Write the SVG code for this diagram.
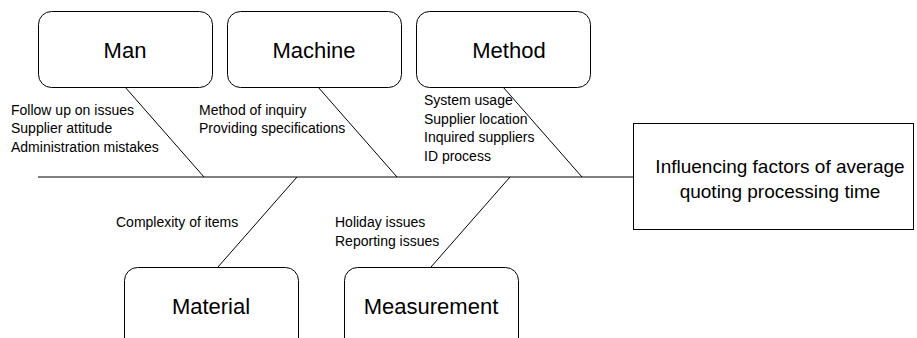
<svg xmlns="http://www.w3.org/2000/svg" width="917" height="338" viewBox="0 0 917 338">
<style>
.box{fill:#fff;stroke:#000;stroke-width:1}
.ln{stroke:#000;stroke-width:1;fill:none}
.big{font-family:"Liberation Sans",Arial,sans-serif;font-size:22px;fill:#000;text-anchor:middle}
.sm{font-family:"Liberation Sans",Arial,sans-serif;font-size:14px;fill:#000}
.eff{font-family:"Liberation Sans",Arial,sans-serif;font-size:19px;fill:#000;text-anchor:middle}
</style>
<rect width="917" height="338" fill="#fff"/>
<g id="connectors">
<line class="ln" x1="38" y1="177" x2="633" y2="177"/>
<line class="ln" x1="125" y1="87" x2="204" y2="177"/>
<line class="ln" x1="318" y1="87" x2="397" y2="177"/>
<line class="ln" x1="503" y1="87" x2="582" y2="177"/>
<line class="ln" x1="297" y1="177" x2="218" y2="267"/>
<line class="ln" x1="510" y1="177" x2="431" y2="267"/>
</g>
<g id="man">
<rect class="box" x="38.5" y="11.5" width="174" height="76" rx="13"/>
<text class="big" x="125" y="58">Man</text>
<text class="sm" x="11" y="115">Follow up on issues</text>
<text class="sm" x="11" y="133">Supplier attitude</text>
<text class="sm" x="11" y="152">Administration mistakes</text>
</g>
<g id="machine">
<rect class="box" x="227.5" y="11.5" width="174" height="76" rx="13"/>
<text class="big" x="314" y="58">Machine</text>
<text class="sm" x="199" y="115">Method of inquiry</text>
<text class="sm" x="199" y="133">Providing specifications</text>
</g>
<g id="method">
<rect class="box" x="416.5" y="11.5" width="174" height="76" rx="13"/>
<text class="big" x="509" y="58">Method</text>
<text class="sm" x="424" y="105">System usage</text>
<text class="sm" x="424" y="124">Supplier location</text>
<text class="sm" x="424" y="142">Inquired suppliers</text>
<text class="sm" x="424" y="161">ID process</text>
</g>
<g id="effect">
<rect class="box" x="633.5" y="123.5" width="280" height="106"/>
<text class="eff" x="780" y="173">Influencing factors of average</text>
<text class="eff" x="780" y="198">quoting processing time</text>
</g>
<g id="material">
<rect class="box" x="124.5" y="267.5" width="174" height="90" rx="13"/>
<text class="big" x="211" y="314">Material</text>
<text class="sm" x="116" y="227">Complexity of items</text>
</g>
<g id="measurement">
<rect class="box" x="344.5" y="267.5" width="174" height="90" rx="13"/>
<text class="big" x="431" y="314">Measurement</text>
<text class="sm" x="335" y="227">Holiday issues</text>
<text class="sm" x="335" y="246">Reporting issues</text>
</g>
</svg>
